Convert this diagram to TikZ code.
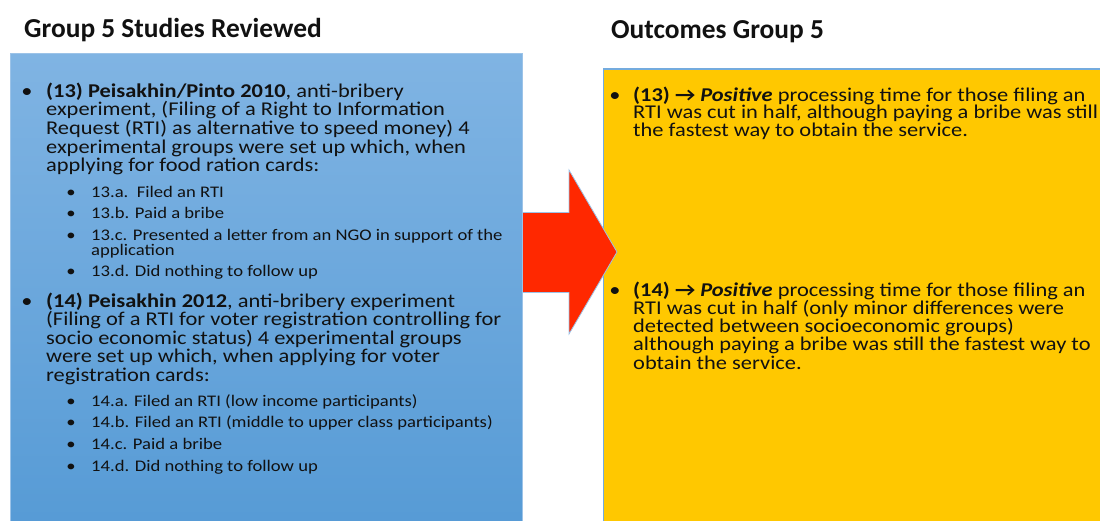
\documentclass[tikz,border=0pt]{standalone}
\usepackage{fontspec}
\setmainfont{Carlito}
\newfontfamily\wfont[FakeStretch=1.15]{Carlito}
\usetikzlibrary{shadings}
\definecolor{boxtop}{HTML}{80B4E3}
\definecolor{boxbot}{HTML}{559AD5}
\definecolor{boxline}{HTML}{9CC3E8}
\definecolor{outfill}{HTML}{FFC800}
\definecolor{outline}{HTML}{74ABDE}
\definecolor{arrowred}{HTML}{FF2800}
\definecolor{ink}{HTML}{111111}
\tikzset{
  title/.style={anchor=base west, inner sep=0pt, text=ink, font=\fontsize{27.4}{30}\selectfont\bfseries},
  mainpara/.style={anchor=base west, inner sep=0pt, align=left, font=\wfont\fontsize{19.5}{18.6}\selectfont, text=ink},
  subitem/.style={anchor=base west, inner sep=0pt, align=left, font=\wfont\fontsize{16.2}{15}\selectfont, text=ink},
  bul/.style={anchor=base, inner sep=0pt, font=\wfont\fontsize{19.5}{18.6}\selectfont, text=ink},
  subbul/.style={anchor=base, inner sep=0pt, font=\wfont\fontsize{16.2}{15}\selectfont, text=ink},
}
\begin{document}
\begin{tikzpicture}[x=1pt,y=-1pt]
\useasboundingbox (0,0) rectangle (1100,520);
\clip (0,0) rectangle (1100,520);
% outcome box
\draw[outline, line width=1.5pt, fill=outfill] (603.5,69) rectangle (1110,540);
% arrow
\draw[boxline, line width=0.8pt, fill=arrowred]
  (500,212.5) -- (569,212.5) -- (569,170) -- (617,252) -- (569,334) -- (569,292.5) -- (500,292.5) -- cycle;
% studies box
\shade[top color=boxtop, bottom color=boxbot] (10,53) rectangle (522,540);
\draw[boxline, line width=0.8pt] (10,540) -- (10,53) -- (522,53) -- (522,540);
% titles
\node[title] (t1) at (24,37) {Group 5 Studies Reviewed};
\node[title] (t2) at (611,38.5) {Outcomes Group 5};
% study 13
\node[bul] (b13) at (27,97.3) {•};
\node[mainpara] (p13) at (46,171.7) {\textbf{(13) Peisakhin/Pinto 2010}, anti-bribery\\experiment, (Filing of a Right to Information\\Request (RTI) as alternative to speed money) 4\\experimental groups were set up which, when\\applying for food ration cards:};
\node[subbul] (b13a) at (71,197.3) {•};
\node[subitem] (s13a) at (91,197.3) {13.a.\ \ Filed an RTI};
\node[subbul] (b13b) at (71,218.5) {•};
\node[subitem] (s13b) at (91,218.5) {13.b. Paid a bribe};
\node[subbul] (b13c) at (71,240) {•};
\node[subitem] (s13c) at (91,255) {13.c. Presented a letter from an NGO in support of the\\application};
\node[subbul] (b13d) at (71,276.5) {•};
\node[subitem] (s13d) at (91,276.5) {13.d. Did nothing to follow up};
% study 14
\node[bul] (b14) at (27,307.3) {•};
\node[mainpara, font=\wfont\fontsize{19.5}{18.45}\selectfont] (p14) at (46,381.1) {\textbf{(14) Peisakhin 2012}, anti-bribery experiment\\(Filing of a RTI for voter registration controlling for\\socio economic status) 4 experimental groups\\were set up which, when applying for voter\\registration cards:};
\node[subbul] (b14a) at (71,406) {•};
\node[subitem] (s14a) at (91,406) {14.a. Filed an RTI (low income participants)};
\node[subbul] (b14b) at (71,427.7) {•};
\node[subitem] (s14b) at (91,427.7) {14.b. Filed an RTI (middle to upper class participants)};
\node[subbul] (b14c) at (71,449.3) {•};
\node[subitem] (s14c) at (91,449.3) {14.c. Paid a bribe};
\node[subbul] (b14d) at (71,471) {•};
\node[subitem] (s14d) at (91,471) {14.d. Did nothing to follow up};
% outcomes
\node[bul] (o13b) at (615,101) {•};
\node[mainpara, font=\wfont\fontsize{19.5}{17.9}\selectfont] (o13) at (633,136.8) {\textbf{(13) → \textit{Positive}} processing time for those filing an\\RTI was cut in half, although paying a bribe was still\\the fastest way to obtain the service.};
\node[bul] (o14b) at (615,296) {•};
\node[mainpara, font=\wfont\fontsize{19.5}{18.3}\selectfont] (o14) at (633,369.2) {\textbf{(14) → \textit{Positive}} processing time for those filing an\\RTI was cut in half (only minor differences were\\detected between socioeconomic groups)\\although paying a bribe was still the fastest way to\\obtain the service.};
\end{tikzpicture}
\end{document}
